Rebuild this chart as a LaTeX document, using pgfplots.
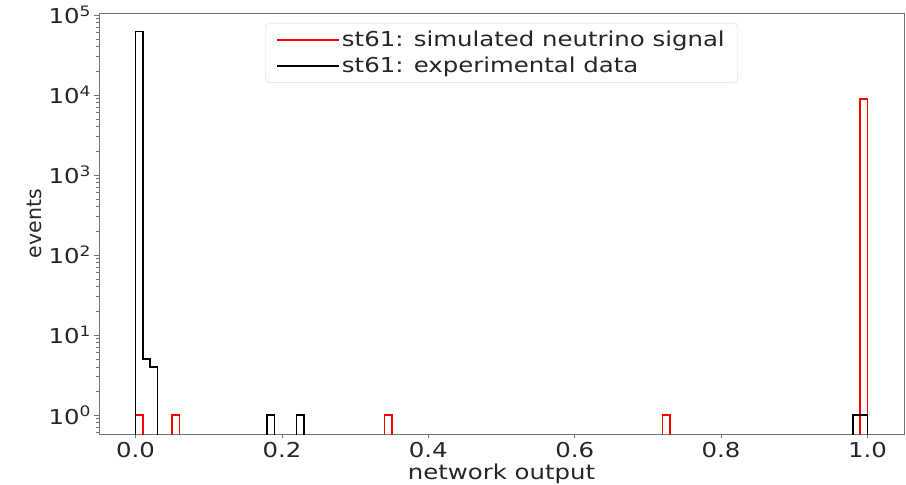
\documentclass[border=0pt]{standalone}
\usepackage{fontspec}
\setmainfont[FakeStretch=1.19]{DejaVu Sans}
\newfontfamily\plainfont{DejaVu Sans}
\usepackage{pgfplots}
\pgfplotsset{compat=1.18}
\begin{document}
\begin{tikzpicture}
\begin{axis}[
  scale only axis, width=805pt, height=421pt,
  ymode=log, log basis y=10,
  xmin=-0.05, xmax=1.05, ymin=0.58, ymax=1.06e5,
  axis line style={black!55, line width=0.9pt},
  tick align=outside, tick pos=left,
  major tick length=4.5pt, minor tick length=2.5pt,
  every tick/.style={black!55, line width=0.8pt},
  xtick={0,0.2,0.4,0.6,0.8,1.0},
  xticklabels={0.0,0.2,0.4,0.6,0.8,1.0},
  ytick={1,10,100,1000,10000,100000},
  yticklabels={10\textsuperscript{0},10\textsuperscript{1},10\textsuperscript{2},10\textsuperscript{3},10\textsuperscript{4},10\textsuperscript{5}},
  minor ytick={0.6,0.7,0.8,0.9,2,3,4,5,6,7,8,9,20,30,40,50,60,70,80,90,200,300,400,500,600,700,800,900,2000,3000,4000,5000,6000,7000,8000,9000,20000,30000,40000,50000,60000,70000,80000,90000},
  ticklabel style={font=\fontsize{20.5}{24}\selectfont, text=black!85},
  /pgf/number format/assume math mode=true,
  xlabel={network output}, ylabel={events},
  xlabel style={font=\fontsize{20.5}{24}\selectfont, text=black!85},
  ylabel style={font=\plainfont\fontsize{20.5}{24}\selectfont, text=black!85},
  legend cell align=left,
  legend image code/.code={\draw[#1, line width=1.1pt] (0pt,0pt) -- (52pt,0pt); \path (0pt,0pt) -- (62pt,0pt);},
  legend style={at={(0.5,1)}, anchor=north, yshift=-10pt, draw=black!15,
    rounded corners=4pt, fill=white, inner xsep=11pt, inner ysep=6pt,
    font=\fontsize{20.5}{24}\selectfont, text=black!85, row sep=5pt},
]
\addplot[red, line width=1.7pt, const plot mark left] coordinates {
  (0,0.001) (0,1) (0.01,0.001) (0.05,1) (0.06,0.001) (0.34,1) (0.35,0.001)
  (0.72,1) (0.73,0.001) (0.99,8900) (1.0,0.001)
};
\addlegendentry{st61: simulated neutrino signal}
\addplot[black, line width=1.7pt, const plot mark left] coordinates {
  (0,0.001) (0,62000) (0.01,5) (0.02,4) (0.03,0.001) (0.18,1) (0.19,0.001)
  (0.22,1) (0.23,0.001) (0.98,1) (1.0,0.001)
};
\addlegendentry{st61: experimental data}
\end{axis}
\pgfresetboundingbox
\path (current axis.south west) ++(-99pt,-51pt) rectangle ++(906pt,485pt);
\end{tikzpicture}
\end{document}
